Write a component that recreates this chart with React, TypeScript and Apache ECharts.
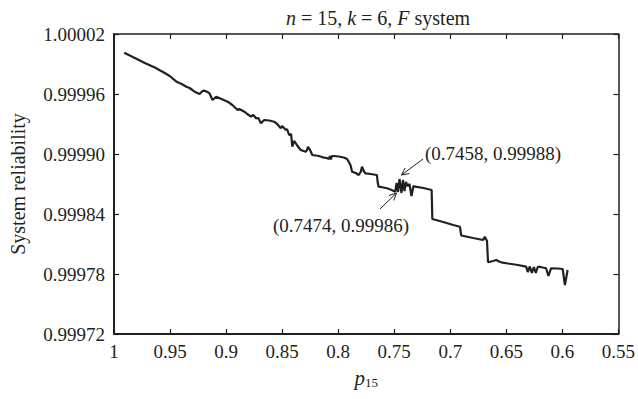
import React, { useEffect, useRef } from "react";
import * as echarts from "echarts";

// p15 values (x)
const pValues = [
  0.9909, 0.9814, 0.9725, 0.9636, 0.9547, 0.9503, 0.9443, 0.9396, 0.9355, 0.9325,
  0.9281, 0.9237, 0.921, 0.9192, 0.9166, 0.9148, 0.9121, 0.9088, 0.9041, 0.8986,
  0.8944, 0.8897, 0.8882, 0.8837, 0.8811, 0.8778, 0.8757, 0.8733, 0.8713, 0.8689,
  0.8678, 0.866, 0.8615, 0.8571, 0.8544, 0.8512, 0.85, 0.8467, 0.8456, 0.8438,
  0.842, 0.8409, 0.8394, 0.8378, 0.8349, 0.8334, 0.829, 0.8278, 0.8269, 0.8251,
  0.8231, 0.8172, 0.8127, 0.8101, 0.8083, 0.8074, 0.8065, 0.8056, 0.8038, 0.7994,
  0.795, 0.792, 0.7905, 0.789, 0.7876, 0.7843, 0.7817, 0.7799, 0.7787, 0.7772,
  0.7757, 0.771, 0.7654, 0.7648, 0.7639, 0.7595, 0.7565, 0.7533, 0.7491, 0.7479,
  0.7466, 0.7453, 0.7435, 0.7422, 0.7408, 0.7395, 0.7382, 0.7364, 0.7346, 0.7328,
  0.7313, 0.724, 0.7166, 0.716, 0.7062, 0.6973, 0.6914, 0.6902, 0.6796, 0.6707,
  0.6692, 0.6672, 0.6663, 0.6618, 0.6589, 0.6565, 0.6545, 0.6485, 0.6396, 0.6323,
  0.6308, 0.629, 0.6272, 0.6254, 0.6237, 0.6219, 0.6204, 0.6175, 0.6145, 0.6124,
  0.6101, 0.6041, 0.5997, 0.5977, 0.5953,
];

// System reliability values (y)
const reliability = [
  1.0000013, 0.999996, 0.999991, 0.9999865, 0.999981, 0.999978, 0.9999723, 0.99997, 0.9999673, 0.999966,
  0.9999623, 0.99996, 0.999963, 0.9999633, 0.999962, 0.9999607, 0.999954, 0.9999573, 0.999955, 0.9999523,
  0.999949, 0.999944, 0.999945, 0.9999423, 0.99994, 0.9999373, 0.999939, 0.9999357, 0.999936, 0.9999307,
  0.999932, 0.999934, 0.9999335, 0.9999323, 0.99993, 0.9999257, 0.999928, 0.999924, 0.999925, 0.999919,
  0.99992, 0.9999073, 0.999913, 0.9999107, 0.999906, 0.999904, 0.9999023, 0.999904, 0.9999073, 0.999904,
  0.999899, 0.999898, 0.9998963, 0.999896, 0.999895, 0.999898, 0.9998945, 0.999898, 0.999898, 0.9998975,
  0.9998965, 0.999895, 0.999892, 0.999889, 0.9998823, 0.999881, 0.999879, 0.999882, 0.9998873, 0.999883,
  0.9998807, 0.99988, 0.999879, 0.999872, 0.9998673, 0.9998665, 0.9998657, 0.9998645, 0.9998623, 0.999871,
  0.999862, 0.999875, 0.999861, 0.999874, 0.999863, 0.999872, 0.999868, 0.99987, 0.999858, 0.999868,
  0.9998673, 0.999866, 0.999864, 0.999835, 0.999832, 0.999829, 0.9998273, 0.9998185, 0.999816, 0.999814,
  0.9998173, 0.999813, 0.9997917, 0.999793, 0.999794, 0.9997925, 0.9997917, 0.9997905, 0.999789, 0.9997873,
  0.999782, 0.9997875, 0.999781, 0.999787, 0.999781, 0.999787, 0.9997873, 0.9997865, 0.9997857, 0.999778,
  0.9997857, 0.9997855, 0.999785, 0.999769, 0.999784,
];

const xMin = 0.55;
const xMax = 1;
const xStep = 0.05;
const yMin = 0.99972;
const yMax = 1.00002;
const yStep = 0.00006;

const annotations = [
  { text: "(0.7458, 0.99988)", tx: 425, ty: 153, from: [423, 159], to: [401.5, 175] },
  { text: "(0.7474, 0.99986)", tx: 273, ty: 225, from: [380, 209], to: [396.5, 193] },
];

const FONT = "'Liberation Serif', 'Times New Roman', serif";
const INK = "#231f20";

function arrowHead(from: number[], to: number[], len = 8, ang = 0.45) {
  const dx = from[0] - to[0];
  const dy = from[1] - to[1];
  const d = Math.hypot(dx, dy);
  const ux = dx / d;
  const uy = dy / d;
  const c = Math.cos(ang);
  const s = Math.sin(ang);
  const a = [to[0] + len * (ux * c - uy * s), to[1] + len * (ux * s + uy * c)];
  const b = [to[0] + len * (ux * c + uy * s), to[1] + len * (-ux * s + uy * c)];
  return [a, to, b];
}

export default function App() {
  const ref = useRef<HTMLDivElement>(null);
  useEffect(() => {
    if (!ref.current) return;
    const chart = echarts.init(ref.current, null, { renderer: "svg" });
    const data = pValues.map((p, i) => [p, reliability[i]]);
    const xFmt = (v: number) => String(parseFloat(v.toFixed(2)));
    const yFmt = (v: number) => v.toFixed(5);
    const axisLine = { show: true, lineStyle: { color: INK, width: 2 } };
    const tick = { show: true, inside: true, length: 5, lineStyle: { color: INK, width: 1.2 } };

    const graphic: any[] = [];
    annotations.forEach((a) => {
      graphic.push({
        type: "text",
        x: a.tx,
        y: a.ty,
        style: { text: a.text, font: `19px ${FONT}`, fill: INK, verticalAlign: "middle", align: "left" },
      });
      graphic.push({
        type: "line",
        shape: { x1: a.from[0], y1: a.from[1], x2: a.to[0], y2: a.to[1] },
        style: { stroke: INK, lineWidth: 1 },
      });
      graphic.push({
        type: "polyline",
        shape: { points: arrowHead(a.from, a.to) },
        style: { stroke: INK, lineWidth: 1, fill: null },
      });
    });

    chart.setOption({
      animation: false,
      backgroundColor: "#ffffff",
      title: {
        text: "{i|n} = 15, {i|k} = 6, {i|F} system",
        left: 373,
        top: 3,
        textAlign: "center",
        textStyle: {
          fontFamily: FONT,
          fontSize: 20,
          fontWeight: "normal",
          color: INK,
          rich: {
            i: { fontFamily: FONT, fontSize: 20, fontStyle: "italic", color: INK },
          },
        },
      },
      grid: { left: 114, right: 17, top: 34, bottom: 65, containLabel: false },
      xAxis: [
        {
          type: "value",
          inverse: true,
          min: xMin,
          max: xMax,
          interval: xStep,
          position: "bottom",
          axisLine,
          axisTick: tick,
          splitLine: { show: false },
          axisLabel: { formatter: xFmt, color: INK, fontFamily: FONT, fontSize: 19, margin: 8 },
          name: "{i|p}{s|15}",
          nameLocation: "middle",
          nameGap: 33,
          nameTextStyle: {
            color: INK,
            rich: {
              i: { fontFamily: FONT, fontSize: 21, fontStyle: "italic", color: INK, lineHeight: 22, verticalAlign: "top" },
              s: { fontFamily: FONT, fontSize: 13, color: INK, lineHeight: 22, verticalAlign: "bottom", padding: [6, 0, 0, 0] },
            },
          },
        },
        {
          type: "value",
          inverse: true,
          min: xMin,
          max: xMax,
          interval: xStep,
          position: "top",
          axisLine: { show: true, lineStyle: { color: INK, width: 1.5 } },
          axisTick: tick,
          axisLabel: { show: false },
          splitLine: { show: false },
        },
      ],
      yAxis: [
        {
          type: "value",
          min: yMin,
          max: yMax,
          interval: yStep,
          position: "left",
          axisLine,
          axisTick: tick,
          splitLine: { show: false },
          axisLabel: { formatter: yFmt, color: INK, fontFamily: FONT, fontSize: 19, margin: 9 },
          name: "System reliability",
          nameLocation: "middle",
          nameGap: 86,
          nameTextStyle: { color: INK, fontFamily: FONT, fontSize: 20 },
        },
        {
          type: "value",
          min: yMin,
          max: yMax,
          interval: yStep,
          position: "right",
          axisLine: { show: true, lineStyle: { color: INK, width: 1.5 } },
          axisTick: tick,
          axisLabel: { show: false },
          splitLine: { show: false },
        },
      ],
      series: [
        {
          type: "line",
          xAxisIndex: 0,
          yAxisIndex: 0,
          data,
          showSymbol: false,
          symbol: "none",
          lineStyle: { color: INK, width: 2.2 },
          z: 3,
        },
      ],
      graphic,
    });
    return () => chart.dispose();
  }, []);
  return <div ref={ref} style={{ width: 638, height: 399, position: "absolute", left: 0, top: 0 }} />;
}
